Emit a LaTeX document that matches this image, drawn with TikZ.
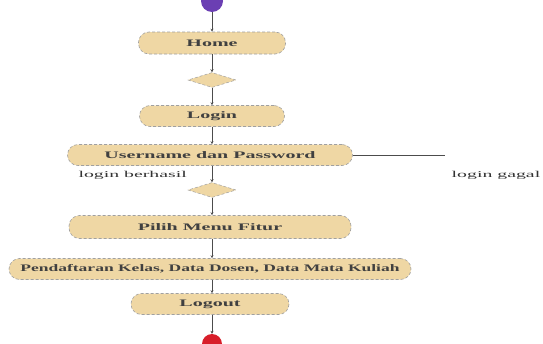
\documentclass[tikz,border=0pt]{standalone}
\usepackage{fontspec}
\setmainfont{Liberation Serif}
\newfontfamily\widefont[FakeStretch=2.0]{Liberation Serif}
\newfontfamily\widerfont[FakeStretch=1.75]{Liberation Serif}
\newfontfamily\lblfont[FakeStretch=2.2]{Liberation Serif}
\usetikzlibrary{shapes.geometric,arrows.meta}
\definecolor{actfill}{HTML}{EFD7A4}
\definecolor{actline}{HTML}{A0A0A0}
\definecolor{startc}{HTML}{6B3FB3}
\definecolor{endc}{HTML}{D81E2A}
\tikzset{
  act/.style={rectangle, rounded corners=10.5pt, fill=actfill, draw=actline, densely dashed, line width=0.6pt,
    font=\widefont\fontsize{10}{12}\selectfont\bfseries, text=black!75, inner sep=0pt},
  dec/.style={diamond, fill=actfill, draw=actline, densely dashed, line width=0.5pt,
    minimum width=48pt, minimum height=15pt, inner sep=0pt},
  flow/.style={draw=black!70, line width=0.6pt, -{Stealth[length=3pt,width=3pt]}},
  lbl/.style={font=\lblfont\fontsize{9}{10}\selectfont, text=black!80}
}
\begin{document}
\begin{tikzpicture}[x=1pt,y=-1pt]
\useasboundingbox (0,0) rectangle (543,343);
\fill[white] (0,0) rectangle (543,343);
\begin{scope}
\clip (0,0) rectangle (543,343);
\node[circle, fill=startc, minimum size=22pt, inner sep=0pt] (start) at (212,1) {};
\node[circle, fill=endc, minimum size=20pt, inner sep=0pt] (stop) at (212,344) {};
\end{scope}
\node[act, minimum width=147pt, minimum height=22pt] (home) at (212,43) {Home};
\node[dec] (d1) at (212,80) {};
\node[act, minimum width=145pt, minimum height=21pt] (login) at (212,116) {Login};
\node[act, minimum width=285pt, minimum height=21pt] (user) at (210,155) {Username dan Password};
\node[dec] (d2) at (212,190) {};
\node[act, minimum width=282pt, minimum height=23pt] (menu) at (210,227) {Pilih Menu Fitur};
\node[act, minimum width=402pt, minimum height=21pt, font=\widerfont\fontsize{10}{12}\selectfont\bfseries] (data) at (210,269) {Pendaftaran Kelas, Data Dosen, Data Mata Kuliah};
\node[act, minimum width=158pt, minimum height=21pt] (logout) at (210,304) {Logout};
\coordinate (fail) at (445,155);
\node[lbl, anchor=west] (ok) at (75,175) {login berhasil};
\node[lbl] (ng) at (496,175) {login gagal};
\draw[flow] (start) -- (home);
\draw[flow] (home) -- (d1);
\draw[flow] (d1) -- (login);
\draw[flow] (login.south -| d1) -- (user.north -| d1);
\draw[flow] (user.south -| d1) -- (d2);
\draw[draw=black!70, line width=0.6pt] (user) -- (fail);
\draw[flow] (d2) -- (menu.north -| d2);
\draw[flow] (menu.south -| d2) -- (data.north -| d2);
\draw[flow] (data.south -| d2) -- (logout.north -| d2);
\draw[flow] (logout.south -| d2) -- (stop);
\end{tikzpicture}
\end{document}
